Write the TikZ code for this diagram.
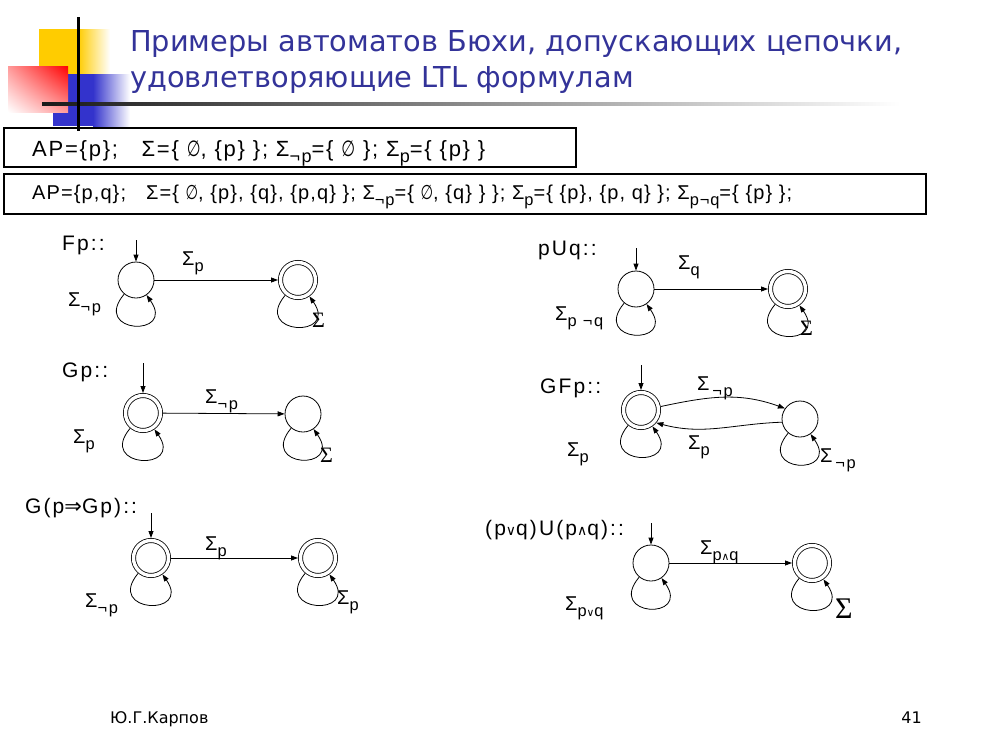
\documentclass[tikz,border=0pt]{standalone}
\usepackage{fontspec}
\usepackage{graphicx}
\setmainfont{Liberation Sans}[LetterSpace=10]
\newfontfamily\titlefont{DejaVu Sans}
\newfontfamily\sigfont{Liberation Serif}
\newfontfamily\symfont{DejaVu Sans}
\usetikzlibrary{arrows.meta,shadings}
\definecolor{titleblue}{HTML}{333399}
\definecolor{logoyellow}{HTML}{FFCC00}
\definecolor{logoblue}{HTML}{3333CC}
\newcommand{\sgm}[1]{Σ\raisebox{-0.3em}{\scalebox{0.82}{#1}}}
\newcommand{\emptyst}{\scalebox{0.72}[1]{\symfont ∅}}

\begin{document}
\begin{tikzpicture}[x=1pt,y=-1pt,
  every node/.style={inner sep=0pt},
  state/.style={circle,draw,line width=0.8pt,minimum size=36pt},
  accept/.style={circle,draw,line width=0.8pt,minimum size=35pt,double,double distance=3.4pt,outer sep=2.5pt},
  trans/.style={line width=0.8pt,-{Triangle[length=7pt,width=5pt]}},
  selfloop/.style={trans,out=-130,in=-55,looseness=1,min distance=52pt},
  lbl/.style={anchor=west,font=\fontsize{20}{22}\selectfont},
  head/.style={anchor=base west,font=\fontsize{21}{24}\selectfont},
  bigsig/.style={anchor=west,font=\sigfont\fontsize{22}{24}\selectfont}]

\useasboundingbox (0,0) rectangle (983,736);

% logo
\fill[logoyellow] (39,29) rectangle (78,74);
\shade[left color=logoyellow,right color=white] (78,29) rectangle (110,74);
\fill[logoblue] (53,74) rectangle (93,126);
\shade[left color=logoblue,right color=white] (93,74) rectangle (130,126);
\shade[upper right=red,upper left=red!40,lower right=red!40,lower left=white] (8,66) rectangle (68,112);
\shade[left color=black!90,right color=white] (42,102.5) rectangle (900,105.5);
\draw[line width=3pt] (78,17) -- (78,131);

% title
\node[anchor=base west,text=titleblue,font=\titlefont\fontsize{28.8}{36}\selectfont] (title1) at (130,51) {Примеры автоматов Бюхи, допускающих цепочки,};
\node[anchor=base west,text=titleblue,font=\titlefont\fontsize{28.8}{36}\selectfont] (title2) at (130,87) {удовлетворяющие LTL формулам};

% alphabets
\draw[line width=1.6pt] (4,128) rectangle (576,167);
\node[anchor=base west,font=\fontsize{22}{24}\selectfont\addfontfeature{LetterSpace=8}] (ap1) at (32,156) {AP=\{p\};\ \ \ Σ=\{ \emptyst, \{p\} \}; \sgm{¬p}=\{ \emptyst\ \}; \sgm{p}=\{ \{p\} \}};
\draw[line width=1.6pt] (4,174) rectangle (926,214);
\node[anchor=base west,font=\fontsize{20}{22}\selectfont\addfontfeature{LetterSpace=5.5}] (ap2) at (32,199) {AP=\{p,q\};\ \ \ Σ=\{ \emptyst, \{p\}, \{q\}, \{p,q\} \}; \sgm{¬p}=\{ \emptyst, \{q\} \} \}; \sgm{p}=\{ \{p\}, \{p, q\} \}; \sgm{p¬q}=\{ \{p\} \};};

% Fp
\node[head] (fphead) at (62,250) {Fp::};
\node[state] (f1) at (136,280) {};
\node[accept] (f2) at (298,280) {};
\coordinate (f0) at (136,240);
\draw[trans] (f0) -- (f1);
\draw[trans] (f1) -- (f2);
\path (f1) edge[selfloop] (f1);
\path (f2) edge[selfloop] (f2);
\node[lbl] (fl1) at (182,263) {\sgm{p}};
\node[lbl] (fl2) at (68,304) {\sgm{¬p}};
\node[bigsig] (fl3) at (312,320) {Σ};

% Gp
\node[head] (gphead) at (62,377) {Gp::};
\node[accept] (g1) at (143,413) {};
\node[state] (g2) at (303,414) {};
\coordinate (g0) at (143,363);
\draw[trans] (g0) -- (g1);
\draw[trans] (g1) -- (g2);
\path (g1) edge[selfloop] (g1);
\path (g2) edge[selfloop] (g2);
\node[lbl] (gl1) at (205,401) {\sgm{¬p}};
\node[lbl] (gl2) at (73,441) {\sgm{p}};
\node[bigsig] (gl3) at (320,455) {Σ};

% G(p=>Gp)
\node[head] (hhead) at (25,513) {G(p{\symfont\fontsize{21}{22}\selectfont ⇒}Gp)::};
\node[accept] (h1) at (151,558) {};
\node[accept] (h2) at (318,558) {};
\coordinate (h0) at (151,513);
\draw[trans] (h0) -- (h1);
\draw[trans] (h1) -- (h2);
\path (h1) edge[selfloop] (h1);
\path (h2) edge[selfloop] (h2);
\node[lbl] (hl1) at (205,548) {\sgm{p}};
\node[lbl] (hl2) at (85,605) {\sgm{¬p}};
\node[lbl] (hl3) at (337,602) {\sgm{p}};

% pUq
\node[head] (uhead) at (538,255) {pUq::};
\node[state] (u1) at (636,289) {};
\node[accept] (u2) at (788,289) {};
\coordinate (u0) at (636,248);
\draw[trans] (u0) -- (u1);
\draw[trans] (u1) -- (u2);
\path (u1) edge[selfloop] (u1);
\path (u2) edge[selfloop] (u2);
\node[lbl] (ul1) at (678,267) {\sgm{q}};
\node[lbl] (ul2) at (555,318) {\sgm{p ¬q}};
\node[bigsig] (ul3) at (800,328) {Σ};

% GFp
\node[head] (gfhead) at (540,393) {GFp::};
\node[accept] (gf1) at (641,410) {};
\node[state] (gf2) at (800,419) {};
\coordinate (gf0) at (641,365);
\draw[trans] (gf0) -- (gf1);
\draw[trans] (gf1.10) to[out=12,in=160] (gf2.145);
\draw[trans] (gf2.190) to[out=182,in=-15] (gf1.-40);
\path (gf1) edge[selfloop] (gf1);
\path (gf2) edge[selfloop] (gf2);
\node[lbl] (gfl1) at (697,388) {\sgm{\,¬p}};
\node[lbl] (gfl2) at (688,447) {\sgm{p}};
\node[lbl] (gfl3) at (567,454) {\sgm{p}};
\node[lbl] (gfl4) at (820,460) {\sgm{\,¬p}};

% (p or q)U(p and q)
\node[head] (vhead) at (485,535) {(p{\symfont\fontsize{14}{15}\selectfont ∨}q)U(p{\symfont\fontsize{14}{15}\selectfont ∧}q)::};
\node[state] (v1) at (651,563) {};
\node[accept] (v2) at (812,563) {};
\coordinate (v0) at (651,523);
\draw[trans] (v0) -- (v1);
\draw[trans] (v1) -- (v2);
\path (v1) edge[selfloop] (v1);
\path (v2) edge[selfloop] (v2);
\node[lbl] (vl1) at (700,552) {\sgm{p{\symfont\fontsize{13}{15}\selectfont ∧}q}};
\node[lbl] (vl2) at (565,608) {\sgm{p{\symfont\fontsize{13}{15}\selectfont ∨}q}};
\node[bigsig,font=\sigfont\fontsize{30}{32}\selectfont] (vl3) at (835,609) {Σ};

% footer
\node[anchor=base west,font=\titlefont\fontsize{16}{18}\selectfont] (author) at (110,723) {Ю.Г.Карпов};
\node[anchor=base east,font=\titlefont\fontsize{16}{18}\selectfont] (pagenum) at (922,723) {41};
\end{tikzpicture}
\end{document}
